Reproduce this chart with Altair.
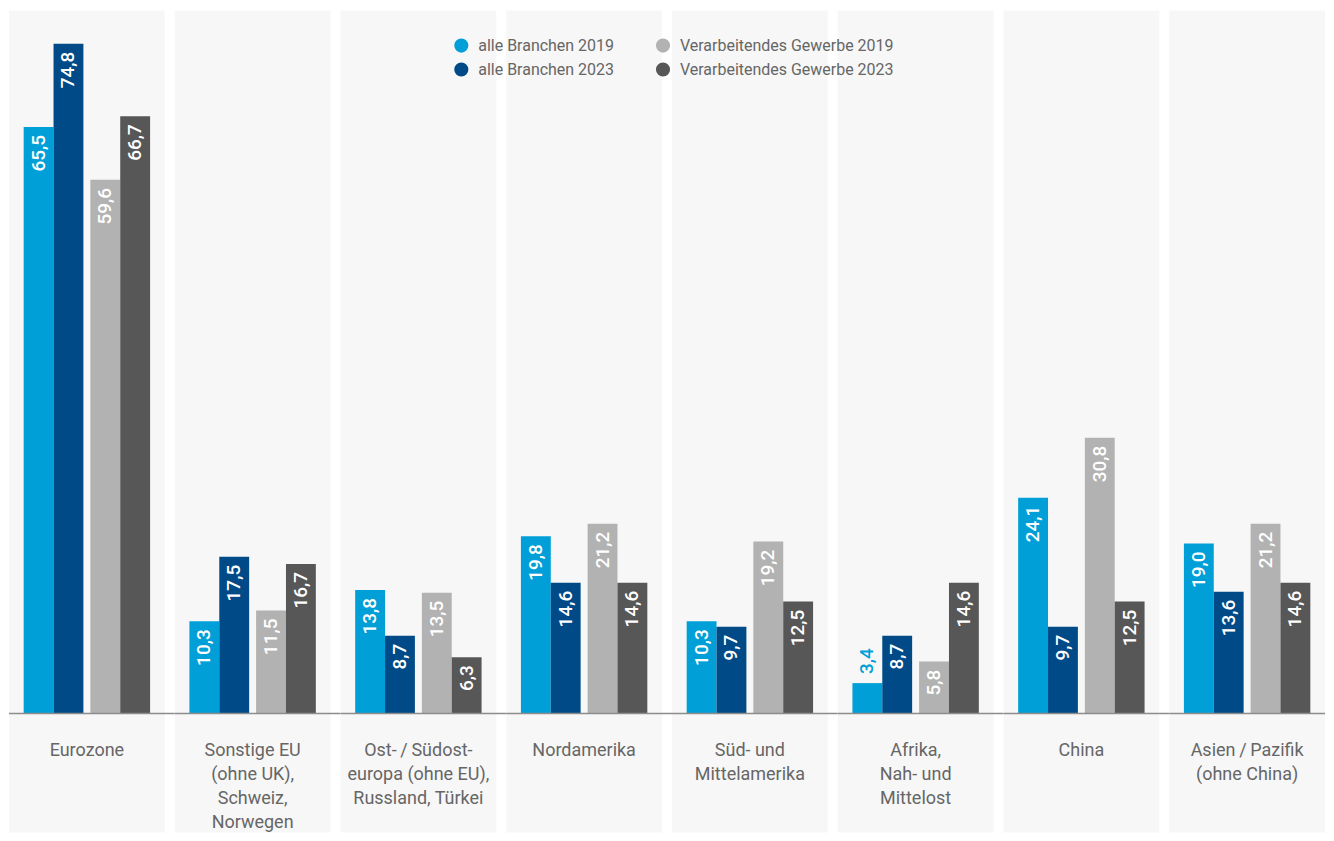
import altair as alt
import pandas as pd

categories = [
    "Eurozone",
    "Sonstige EU\n(ohne UK),\nSchweiz,\nNorwegen",
    "Ost-\u2009/\u2009Südost-\neuropa (ohne EU),\nRussland, Türkei",
    "Nordamerika",
    "Süd- und\nMittelamerika",
    "Afrika,\nNah- und\nMittelost",
    "China",
    "Asien\u2009/\u2009Pazifik\n(ohne China)",
]
alle_2019 = [65.5, 10.3, 13.8, 19.8, 10.3, 3.4, 24.1, 19.0]
alle_2023 = [74.8, 17.5, 8.7, 14.6, 9.7, 8.7, 9.7, 13.6]
verarb_2019 = [59.6, 11.5, 13.5, 21.2, 19.2, 5.8, 30.8, 21.2]
verarb_2023 = [66.7, 16.7, 6.3, 14.6, 12.5, 14.6, 12.5, 14.6]

series_names = [
    "alle Branchen 2019",
    "alle Branchen 2023",
    "Verarbeitendes Gewerbe 2019",
    "Verarbeitendes Gewerbe 2023",
]
series_colors = ["#009fd8", "#004b87", "#b2b2b2", "#575757"]

rows = []
for i, cat in enumerate(categories):
    for name, grp, yr, vals in [
        ("alle Branchen 2019", "alle", "2019", alle_2019),
        ("alle Branchen 2023", "alle", "2023", alle_2023),
        ("Verarbeitendes Gewerbe 2019", "verarb", "2019", verarb_2019),
        ("Verarbeitendes Gewerbe 2023", "verarb", "2023", verarb_2023),
    ]:
        rows.append({"cat": cat, "series": name, "group": grp, "year": yr, "value": vals[i],
                     "last": i == len(categories) - 1})
df = pd.DataFrame(rows)

FONT = "Roboto"
PANEL_W = 156
PANEL_H = 823

y_scale = alt.Scale(domain=[-13.27, 78.5], nice=False, zero=False)
x_enc = alt.X("group:N", scale=alt.Scale(domain=["alle", "verarb"], paddingInner=0.1045, paddingOuter=0.22), axis=None)
xo_enc = alt.XOffset("year:N", scale=alt.Scale(domain=["2019", "2023"], paddingInner=0, paddingOuter=0))
color_scale = alt.Scale(domain=series_names, range=series_colors)

base = alt.Chart(df)

bars = base.mark_bar().encode(
    x=x_enc,
    xOffset=xo_enc,
    y=alt.Y("value:Q", scale=y_scale, axis=None),
    y2=alt.datum(0),
    color=alt.Color(
        "series:N",
        scale=color_scale,
        legend=alt.Legend(
            title=None,
            orient="none",
            legendX=445,
            legendY=27,
            columns=2,
            columnPadding=41,
            rowPadding=8,
            symbolType="circle",
            symbolSize=200,
            symbolStrokeWidth=0,
            labelFont=FONT,
            labelFontSize=16,
            labelColor="#666666",
            labelOffset=9,
            labelLimit=400,
        ),
    ),
)

labels_in = base.transform_filter("datum.value >= 5").transform_calculate(
    lbl="replace(format(datum.value, '.1f'), '.', ',')"
).mark_text(
    angle=270, align="right", baseline="middle", dx=-8, color="white",
    font=FONT, fontSize=19, fontWeight=500,
).encode(
    x=x_enc, xOffset=xo_enc, y=alt.Y("value:Q", scale=y_scale, axis=None), text="lbl:N"
)

labels_out = base.transform_filter("datum.value < 5").transform_calculate(
    lbl="replace(format(datum.value, '.1f'), '.', ',')"
).mark_text(
    angle=270, align="left", baseline="middle", dx=9,
    font=FONT, fontSize=19, fontWeight=500,
).encode(
    x=x_enc, xOffset=xo_enc, y=alt.Y("value:Q", scale=y_scale, axis=None), text="lbl:N",
    color=alt.Color("series:N", scale=color_scale, legend=None),
)

one = base.transform_filter(alt.datum.series == "alle Branchen 2019")

rule_mid = one.transform_filter("!datum.last").transform_calculate(zero="0").mark_rule(
    color="#8c8c8c", strokeWidth=1.5
).encode(
    x=alt.value(0), x2=alt.value(PANEL_W + 10), y=alt.Y("zero:Q", scale=y_scale, axis=None)
)
rule_last = one.transform_filter("datum.last").transform_calculate(zero="0").mark_rule(
    color="#8c8c8c", strokeWidth=1.5
).encode(
    x=alt.value(0), x2=alt.value(PANEL_W), y=alt.Y("zero:Q", scale=y_scale, axis=None)
)

cat_labels = one.transform_calculate(ly="-3.23").mark_text(
    align="center", baseline="top", lineBreak="\n", lineHeight=24,
    font=FONT, fontSize=18, color="#666666",
).encode(
    x=alt.value(PANEL_W / 2),
    y=alt.Y("ly:Q", scale=y_scale, axis=None),
    text="cat:N",
)

layered = alt.layer(bars, labels_in, labels_out, rule_mid, rule_last, cat_labels).properties(
    width=PANEL_W, height=PANEL_H
)

chart = layered.facet(
    column=alt.Column("cat:N", sort=categories, title=None, header=alt.Header(labels=False)),
    spacing=10,
    bounds="flush",
).properties(
    padding={"left": 0, "top": 2, "right": 0, "bottom": 0},
    background="white",
).configure(font=FONT).configure_view(fill="#f7f7f7", stroke=None)

chart.save("out.html", embed_options={"renderer": "svg", "actions": False})
